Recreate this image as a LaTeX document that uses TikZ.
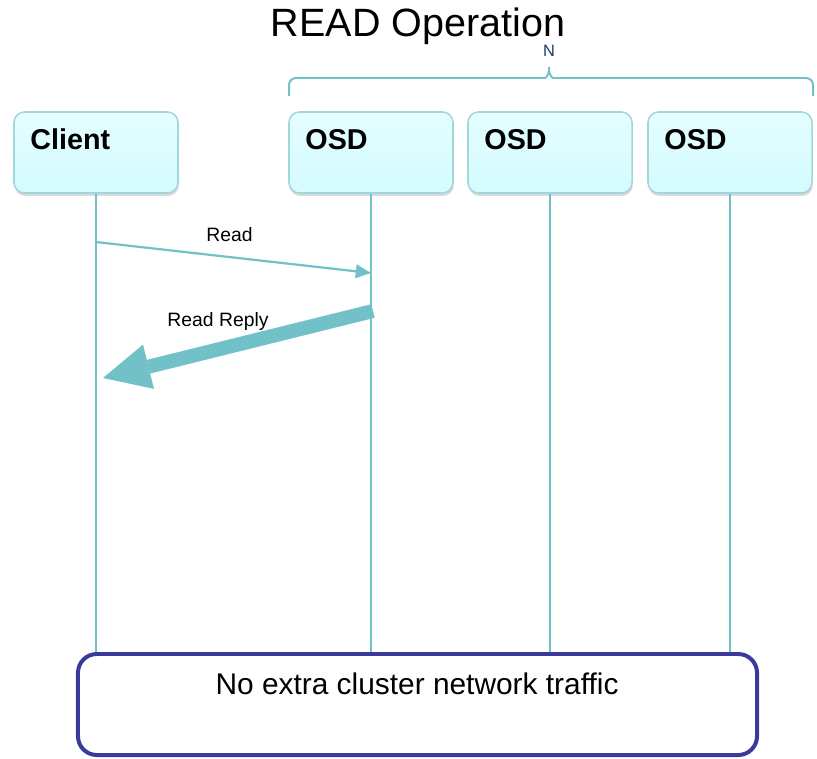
\documentclass[tikz,border=0pt]{standalone}
\usepackage{fontspec}
\setmainfont{Liberation Sans}
\usetikzlibrary{arrows.meta,shadows}

\definecolor{lineteal}{HTML}{72C1C6}
\definecolor{boxedge}{HTML}{A3D6DA}
\definecolor{boxtop}{HTML}{E4FEFF}
\definecolor{boxbottom}{HTML}{D4FBFE}
\definecolor{noteblue}{HTML}{3A3A9C}
\definecolor{tagblue}{HTML}{1F3A60}

\begin{document}
\begin{tikzpicture}[x = 0.03cm, y = -0.03cm,
    lifebox/.style = {draw = boxedge, line width = 1.3pt, rounded corners = 9pt,
        top color = boxtop, bottom color = boxbottom,
        minimum width = 4.92cm, minimum height = 2.43cm, inner sep = 0pt,
        drop shadow = {shadow xshift = 0.6pt, shadow yshift = -2.5pt, opacity = 0.25, fill = black!60}},
    boxname/.style = {anchor = base west, inner sep = 0pt, font = \fontsize{24.5}{28}\selectfont\bfseries},
    lifeline/.style = {draw = lineteal, line width = 1.7pt},
    msg/.style = {draw = lineteal, line width = 1.9pt, -{Triangle[length = 13pt, width = 12pt, line width = 0pt]}},
    bigmsg/.style = {draw = lineteal, fill = lineteal, line width = 12pt, -{Triangle[length = 40pt, width = 39pt, line width = 0pt]}},
    msglabel/.style = {anchor = base, inner sep = 0pt, font = \fontsize{16.5}{19}\selectfont},
    bracket/.style = {draw = lineteal, line width = 1.7pt, rounded corners = 6pt}]

        \useasboundingbox (0, 0) rectangle (817, 758);

        % title and the bracket over the OSDs
        \node (title) at (418, 37) [anchor = base, inner sep = 0pt, text depth = 0pt, font = \fontsize{33.7}{38}\selectfont] {READ Operation};
        \draw [bracket] (289, 96) -- (289, 78) -- (538, 78) .. controls (546, 78) and (549, 74) .. (549, 63)
            .. controls (549, 74) and (552, 78) .. (560, 78) -- (813, 78) -- (813, 96);
        \node (count) at (549, 57) [anchor = base, inner sep = 0pt, text = tagblue, font = \fontsize{14}{16}\selectfont] {N};

        % bottom note
        \node (note) at (417.5, 704.5) [draw = noteblue, line width = 3.4pt, rounded corners = 16pt,
            minimum width = 20.37cm, minimum height = 3.03cm, inner sep = 0pt] {};
        \node (notetext) at (417, 694) [anchor = base, inner sep = 0pt, font = \fontsize{25.5}{29}\selectfont] {No extra cluster network traffic};

        % lifelines
        \node (client) at (96, 152.5) [lifebox] {};
        \node (osda) at (371, 152.5) [lifebox] {};
        \node (osdb) at (550, 152.5) [lifebox] {};
        \node (osdc) at (730, 152.5) [lifebox] {};

        \draw [lifeline] (client.south) -- (client.south |- note.north);
        \draw [lifeline] (osda.south) -- (osda.south |- note.north);
        \draw [lifeline] (osdb.south) -- (osdb.south |- note.north);
        \draw [lifeline] (osdc.south) -- (osdc.south |- note.north);

        \node (clientname) at ([shift = {(17, 38)}] client.north west) [boxname] {Client};
        \node (osdaname) at ([shift = {(17, 38)}] osda.north west) [boxname] {OSD};
        \node (osdbname) at ([shift = {(17, 38)}] osdb.north west) [boxname] {OSD};
        \node (osdcname) at ([shift = {(17, 38)}] osdc.north west) [boxname] {OSD};

        % messages
        \coordinate (readout) at (96, 242);
        \coordinate (readin) at (371, 273);
        \draw [msg] (readout) -- (readin);
        \node (readlabel) at (229.5, 241) [msglabel] {Read};

        \coordinate (replyout) at (373, 311);
        \coordinate (replyin) at (103, 378);
        \draw [bigmsg] (replyout) -- (replyin);
        \node (replylabel) at (218, 326) [msglabel] {Read Reply};

    \end{tikzpicture}
\end{document}
